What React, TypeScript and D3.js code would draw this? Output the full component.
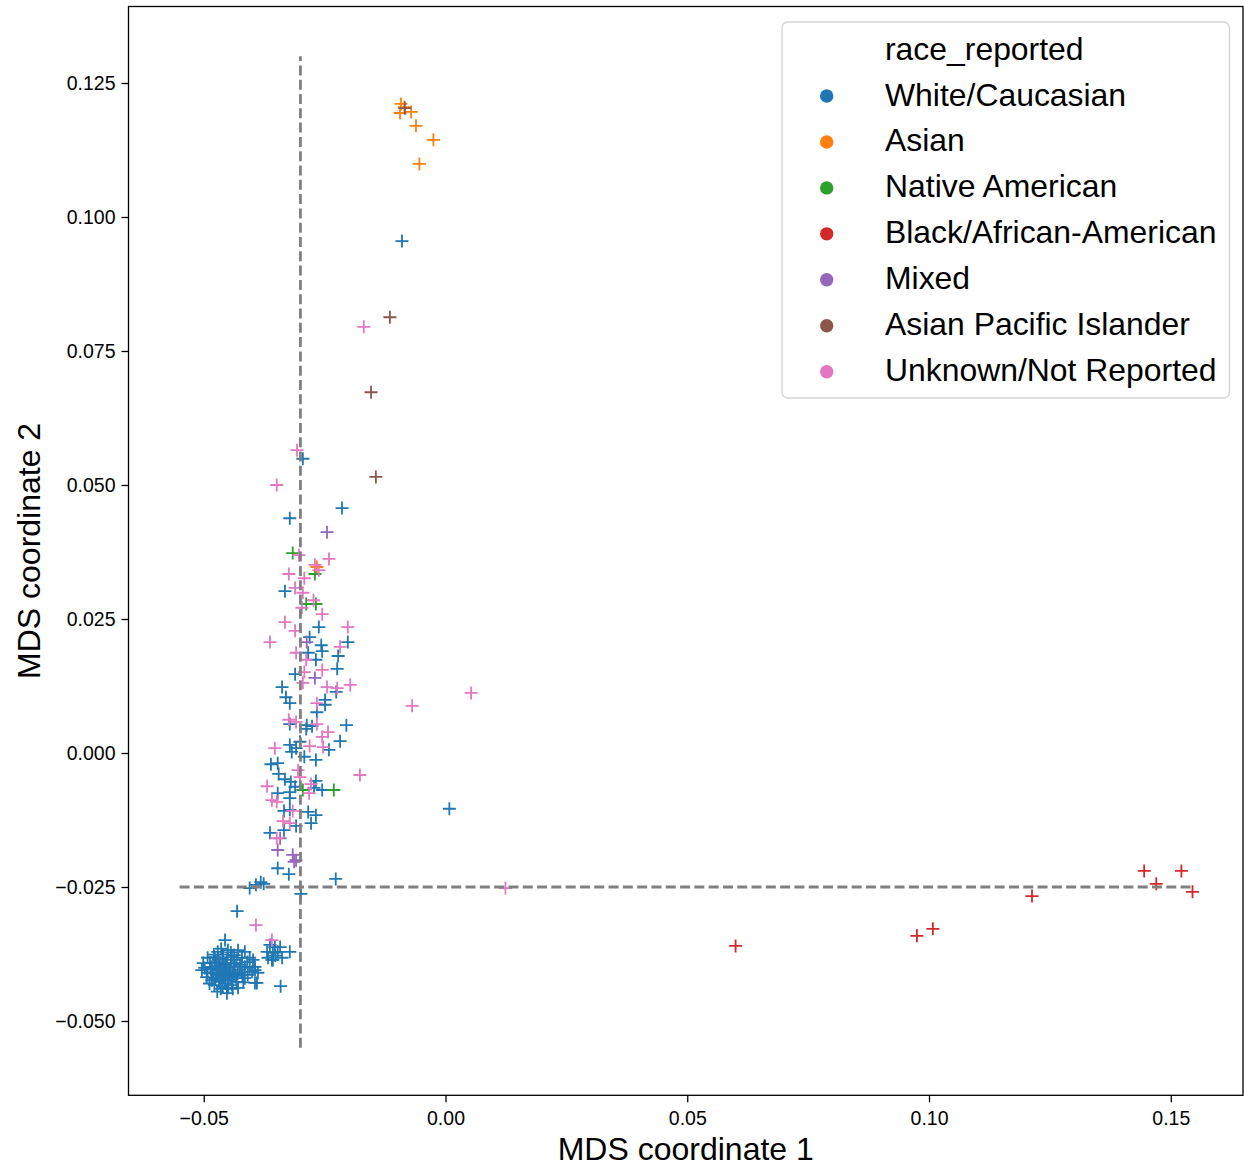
import React, { useEffect, useRef } from 'react';
import * as d3 from 'd3';

type Pt = [number, number];

// MDS coordinates per reported race
const white: Pt[] = [
  [-0.0090, 0.0955], [-0.0295, 0.0549], [-0.0214, 0.0457], [-0.0322, 0.0438], [-0.0332, 0.0302],
  [0.0008, -0.0104], [-0.0227, -0.0235],
  [-0.0262, 0.0235], [-0.0281, 0.0216], [-0.0202, 0.0207], [-0.0257, 0.0201], [-0.0255, 0.0190],
  [-0.0284, 0.0187], [-0.0222, 0.0181], [-0.0268, 0.0174], [-0.0224, 0.0157], [-0.0311, 0.0147],
  [-0.0338, 0.0123], [-0.0330, 0.0104], [-0.0226, 0.0114], [-0.0322, 0.0093], [-0.0249, 0.0099],
  [-0.0266, 0.0076], [-0.0249, 0.0090], [-0.0322, 0.0054], [-0.0287, 0.0052], [-0.0276, 0.0050],
  [-0.0288, 0.0045], [-0.0205, 0.0052], [-0.0301, 0.0021], [-0.0218, 0.0022],
  [-0.0322, 0.0015], [-0.0318, 0.0002], [-0.0309, 0.0009], [-0.0292, -0.0007], [-0.0241, 0.0006],
  [-0.0361, -0.0021], [-0.0347, -0.0019], [-0.0268, -0.0013], [-0.0345, -0.0039], [-0.0332, -0.0049],
  [-0.0320, -0.0054], [-0.0268, -0.0052], [-0.0311, -0.0063], [-0.0272, -0.0065], [-0.0255, -0.0069],
  [-0.0347, -0.0075], [-0.0322, -0.0073], [-0.0322, -0.0084], [-0.0334, -0.0108], [-0.0322, -0.0106],
  [-0.0284, -0.0110], [-0.0268, -0.0116], [-0.0309, -0.0136], [-0.0278, -0.0131], [-0.0334, -0.0144],
  [-0.0363, -0.0149], [-0.0347, -0.0215], [-0.0324, -0.0226], [-0.0392, -0.0246], [-0.0382, -0.0241],
  [-0.0405, -0.0252], [-0.0376, -0.0244], [-0.0299, -0.0263],
  [-0.0431, -0.0295], [-0.0456, -0.0349],
  [-0.0471, -0.0371], [-0.0450, -0.0368], [-0.0429, -0.0368], [-0.0415, -0.0371],
  [-0.0492, -0.0382], [-0.0477, -0.0381], [-0.0461, -0.0382], [-0.0442, -0.0381], [-0.0421, -0.0382],
  [-0.0405, -0.0382], [-0.0498, -0.0401], [-0.0483, -0.0399], [-0.0467, -0.0396], [-0.0452, -0.0401],
  [-0.0436, -0.0399], [-0.0415, -0.0399], [-0.0394, -0.0399], [-0.0492, -0.0410], [-0.0473, -0.0414],
  [-0.0456, -0.0410], [-0.0440, -0.0414], [-0.0421, -0.0409], [-0.0405, -0.0401], [-0.0409, -0.0414],
  [-0.0483, -0.0424], [-0.0467, -0.0427], [-0.0450, -0.0424], [-0.0432, -0.0427], [-0.0415, -0.0420],
  [-0.0461, -0.0436], [-0.0442, -0.0433], [-0.0429, -0.0438], [-0.0394, -0.0429], [-0.0452, -0.0448],
  [-0.0504, -0.0405], [-0.0475, -0.0390], [-0.0458, -0.0392], [-0.0462, -0.0418], [-0.0446, -0.0406],
  [-0.0470, -0.0405], [-0.0455, -0.0430], [-0.0438, -0.0392], [-0.0480, -0.0410], [-0.0466, -0.0410],
  [-0.0448, -0.0416], [-0.0430, -0.0412], [-0.0487, -0.0392], [-0.0476, -0.0420], [-0.0458, -0.0402],
  [-0.0442, -0.0422], [-0.0425, -0.0395], [-0.0470, -0.0385], [-0.0460, -0.0376], [-0.0452, -0.0386],
  [-0.0437, -0.0377], [-0.0494, -0.0418], [-0.0478, -0.0433], [-0.0465, -0.0440], [-0.0440, -0.0440],
  [-0.0418, -0.0428], [-0.0410, -0.0390], [-0.0400, -0.0408],
  [-0.0486, -0.0403], [-0.0474, -0.0398], [-0.0463, -0.0404], [-0.0454, -0.0395], [-0.0444, -0.0398],
  [-0.0468, -0.0421], [-0.0457, -0.0424], [-0.0447, -0.0410], [-0.0435, -0.0418], [-0.0426, -0.0404],
  [-0.0488, -0.0430], [-0.0472, -0.0445], [-0.0459, -0.0413], [-0.0449, -0.0438], [-0.0432, -0.0386],
  [-0.0479, -0.0376], [-0.0464, -0.0365], [-0.0444, -0.0372], [-0.0501, -0.0392], [-0.0420, -0.0415],
  [-0.0363, -0.0358], [-0.0353, -0.0362], [-0.0342, -0.0362], [-0.0369, -0.0371], [-0.0357, -0.0373],
  [-0.0347, -0.0371], [-0.0322, -0.0371], [-0.0367, -0.0382], [-0.0357, -0.0386], [-0.0338, -0.0382],
  [-0.0398, -0.0386], [-0.0394, -0.0405], [-0.0388, -0.0410], [-0.0390, -0.0429], [-0.0341, -0.0435],
  [-0.0352, -0.0378], [-0.0359, -0.0386],
];
const asian: Pt[] = [
  [-0.0092, 0.1211], [-0.0085, 0.1205], [-0.0094, 0.1194], [-0.0071, 0.1196], [-0.0061, 0.1170],
  [-0.0025, 0.1144], [-0.0054, 0.1099], [-0.0266, 0.0347],
];
const nativeAm: Pt[] = [
  [-0.0316, 0.0373], [-0.0270, 0.0334], [-0.0268, 0.0278], [-0.0288, 0.0278],
  [-0.0295, -0.0069], [-0.0231, -0.0069],
];
const black: Pt[] = [
  [0.0600, -0.0360], [0.0975, -0.0341], [0.1008, -0.0328], [0.1213, -0.0267],
  [0.1445, -0.0220], [0.1522, -0.0220], [0.1470, -0.0244], [0.1545, -0.0259],
];
const mixed: Pt[] = [
  [-0.0245, 0.0412], [-0.0287, 0.0207], [-0.0270, 0.0140], [-0.0342, -0.0159], [-0.0347, -0.0181],
  [-0.0316, -0.0190], [-0.0309, -0.0200], [-0.0313, -0.0203],
];
const pacific: Pt[] = [
  [-0.0084, 0.1203], [-0.0115, 0.0813], [-0.0154, 0.0673], [-0.0144, 0.0515],
];
const unknown: Pt[] = [
  [-0.0169, 0.0795], [0.0053, 0.0112], [-0.0069, 0.0088], [-0.0177, -0.0041], [0.0124, -0.0252],
  [-0.0307, 0.0565], [-0.0349, 0.0500], [-0.0303, 0.0369], [-0.0241, 0.0362], [-0.0270, 0.0351],
  [-0.0262, 0.0341], [-0.0324, 0.0334], [-0.0292, 0.0326], [-0.0311, 0.0308], [-0.0295, 0.0299],
  [-0.0273, 0.0285], [-0.0297, 0.0271], [-0.0255, 0.0259], [-0.0332, 0.0244], [-0.0202, 0.0235],
  [-0.0311, 0.0228], [-0.0363, 0.0207], [-0.0218, 0.0198], [-0.0309, 0.0187], [-0.0288, 0.0174],
  [-0.0255, 0.0155], [-0.0292, 0.0151], [-0.0295, 0.0131], [-0.0245, 0.0123], [-0.0197, 0.0127],
  [-0.0224, 0.0121], [-0.0266, 0.0093], [-0.0324, 0.0062], [-0.0309, 0.0058], [-0.0266, 0.0054],
  [-0.0243, 0.0039], [-0.0353, 0.0009], [-0.0255, 0.0030], [-0.0281, 0.0013], [-0.0253, 0.0011],
  [-0.0305, -0.0032], [-0.0301, -0.0045], [-0.0278, -0.0058], [-0.0282, -0.0075], [-0.0369, -0.0062],
  [-0.0359, -0.0088], [-0.0349, -0.0091], [-0.0316, -0.0108], [-0.0336, -0.0127], [-0.0322, -0.0131],
  [-0.0349, -0.0159], [-0.0392, -0.0321], [-0.0359, -0.0349],
];

const categories = [
  'White/Caucasian', 'Asian', 'Native American', 'Black/African-American',
  'Mixed', 'Asian Pacific Islander', 'Unknown/Not Reported',
];
const series = [white, asian, nativeAm, black, mixed, pacific, unknown];
const colors = ['#1f77b4', '#ff7f0e', '#2ca02c', '#d62728', '#9467bd', '#8c564b', '#e377c2'];

const xTicks = [-0.05, 0, 0.05, 0.1, 0.15];
const yTicks = [-0.05, -0.025, 0, 0.025, 0.05, 0.075, 0.1, 0.125];
// reference lines
const vLineX = -0.03;
const vLineY = [-0.055, 0.13];
const hLineY = -0.025;
const hLineX = [-0.055, 0.155];

const FONT = "'Liberation Sans', Arial, sans-serif";

const App = () => {
  const svgRef = useRef<SVGSVGElement>(null);

  useEffect(() => {
    const W = 1244, H = 1166;
    const left = 128.5, right = 1243, top = 6.5, bottom = 1095.3;

    const svg = d3.select(svgRef.current);
    svg.selectAll('*').remove();

    const x = d3.scaleLinear().domain([-0.06556, 0.16494]).range([left, right]);
    const y = d3.scaleLinear().domain([-0.06386, 0.13927]).range([bottom, top]);

    svg.append('rect').attr('width', W).attr('height', H).attr('fill', '#fff');

    // points as "+" markers
    const pts = svg.append('g');
    series.forEach((data, i) => {
      pts.selectAll(null)
        .data(data)
        .enter().append('path')
        .attr('d', d => {
          const px = x(d[0]), py = y(d[1]);
          return `M${px - 6.5},${py}H${px + 6.5}M${px},${py - 6.5}V${py + 6.5}`;
        })
        .attr('stroke', colors[i])
        .attr('stroke-width', 1.8)
        .attr('fill', 'none');
    });

    // dashed guide lines
    const dash = { stroke: '#808080', w: 2.8, arr: '10 4.3' };
    svg.append('line')
      .attr('x1', x(vLineX)).attr('x2', x(vLineX))
      .attr('y1', y(vLineY[0])).attr('y2', y(vLineY[1]))
      .attr('stroke', dash.stroke).attr('stroke-width', dash.w).attr('stroke-dasharray', dash.arr);
    svg.append('line')
      .attr('x1', x(hLineX[0])).attr('x2', x(hLineX[1]))
      .attr('y1', y(hLineY)).attr('y2', y(hLineY))
      .attr('stroke', dash.stroke).attr('stroke-width', dash.w).attr('stroke-dasharray', dash.arr);

    // axes
    const xAxis = svg.append('g')
      .attr('transform', `translate(0,${bottom})`)
      .call(d3.axisBottom(x).tickValues(xTicks).tickSize(7).tickPadding(9).tickFormat(d3.format('.2f')));
    const yAxis = svg.append('g')
      .attr('transform', `translate(${left},0)`)
      .call(d3.axisLeft(y).tickValues(yTicks).tickSize(7).tickPadding(6).tickFormat(d3.format('.3f')));
    [xAxis, yAxis].forEach(a => {
      a.select('.domain').remove();
      a.selectAll('line').attr('stroke', '#000').attr('stroke-width', 1.3);
      a.selectAll('text').attr('font-family', FONT).attr('font-size', 19.5).attr('fill', '#000');
    });

    svg.append('rect')
      .attr('x', left).attr('y', top)
      .attr('width', right - left).attr('height', bottom - top)
      .attr('fill', 'none').attr('stroke', '#000').attr('stroke-width', 1.3);

    svg.append('text')
      .attr('x', (left + right) / 2).attr('y', 1160)
      .attr('text-anchor', 'middle')
      .attr('font-family', FONT).attr('font-size', 32)
      .text('MDS coordinate 1');
    svg.append('text')
      .attr('transform', `translate(40,${(top + bottom) / 2}) rotate(-90)`)
      .attr('text-anchor', 'middle')
      .attr('font-family', FONT).attr('font-size', 32)
      .text('MDS coordinate 2');

    // legend
    const lg = svg.append('g');
    lg.append('rect')
      .attr('x', 782).attr('y', 22).attr('width', 447.5).attr('height', 376)
      .attr('rx', 6).attr('fill', '#fff').attr('fill-opacity', 0.8)
      .attr('stroke', '#d4d4d4').attr('stroke-width', 1.3);
    lg.append('text')
      .attr('x', 885).attr('y', 59.5)
      .attr('font-family', FONT).attr('font-size', 31.9)
      .text('race_reported');
    categories.forEach((c, i) => {
      const cy = 96 + i * 45.95;
      lg.append('circle').attr('cx', 826.7).attr('cy', cy).attr('r', 6.7).attr('fill', colors[i]);
      lg.append('text')
        .attr('x', 885).attr('y', cy + 9.5)
        .attr('font-family', FONT).attr('font-size', 31.9)
        .text(c);
    });
  }, []);

  return (
    <svg
      ref={svgRef}
      width={1244}
      height={1166}
      style={{ position: 'absolute', left: 0, top: 0, display: 'block' }}
    ></svg>
  );
};

export default App;
